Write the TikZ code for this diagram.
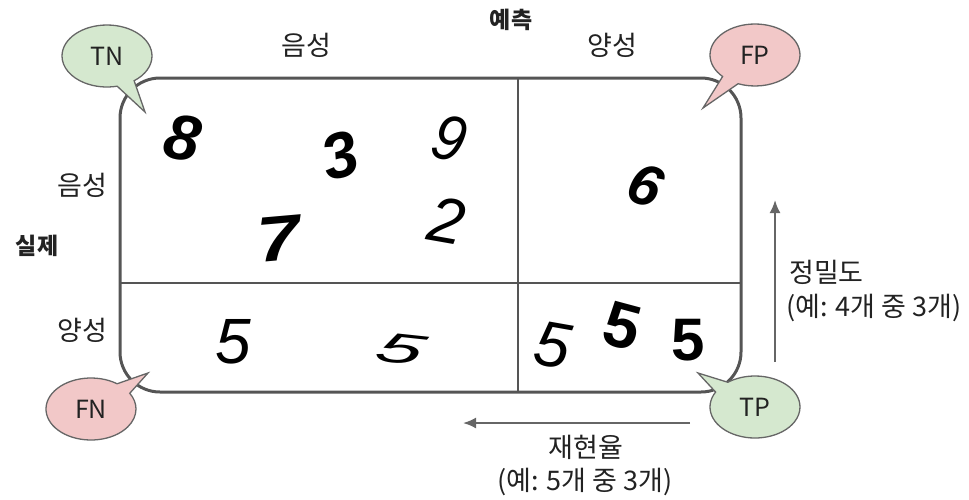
\documentclass[tikz,border=0pt]{standalone}
\usepackage{fontspec}
\setmainfont{Noto Sans CJK KR}
\newfontfamily\digitfont{Liberation Sans}
\usetikzlibrary{shapes.callouts,arrows.meta}
\definecolor{boxgray}{HTML}{555555}
\definecolor{arrowgray}{HTML}{666666}
\definecolor{bubgreen}{HTML}{D5E8CF}
\definecolor{bubred}{HTML}{F2C8C8}
\definecolor{txt}{HTML}{222222}
\tikzset{
  lbl/.style={text=txt, font=\fontsize{27}{30}\selectfont, inner sep=0},
  boldlbl/.style={text=txt, font=\fontsize{23}{26}\selectfont\bfseries, inner sep=0},
  bubble/.style={ellipse callout, draw=arrowgray, line width=1.3, minimum width=90, minimum height=62, inner sep=0, callout pointer arc=24, text=txt, font=\fontsize{25}{28}\selectfont},
  digit/.style={inner sep=0, text=black, font=\digitfont\bfseries\itshape\fontsize{64}{64}\selectfont},
  thindigit/.style={inner sep=0, text=black, font=\digitfont\itshape\fontsize{64}{64}\selectfont},
  metric/.style={draw=arrowgray, line width=2, -{Latex[length=13,width=11]}},
}
\begin{document}
\begin{tikzpicture}[x=1pt,y=-1pt]
\useasboundingbox (0,0) rectangle (969,499);
% matrix box
\draw[boxgray, line width=3, rounded corners=40] (120,78) rectangle (741,392);
\draw[boxgray, line width=2.5] (518,78) -- (518,392);
\draw[boxgray, line width=2.5] (120,283) -- (741,283);
% axis labels
\node[boldlbl] (pred) at (511,20) {예측};
\node[lbl] (predN) at (306,45) {음성};
\node[lbl] (predP) at (612,45) {양성};
\node[boldlbl] (act) at (37,246) {실제};
\node[lbl] (actN) at (82,185) {음성};
\node[lbl] (actP) at (82,330) {양성};
% digits
\node[digit, rotate=-10] (d8) at (183,138) {8};
\node[digit, rotate=15] (d3) at (340,156) {3};
\node[thindigit, rotate=-15, xscale=0.9] (d9) at (450,138) {9};
\node[digit, rotate=5, xscale=1.2] (d7) at (279,239) {7};
\node[thindigit, rotate=-10] (d2) at (447,221) {2};
\node[digit, rotate=-20, font=\digitfont\bfseries\itshape\fontsize{58}{58}\selectfont] (d6) at (645,185) {6};
\node[thindigit] (d5a) at (233,342) {5};
\node[thindigit, xscale=1.3, yscale=0.65, rotate=-12] (d5b) at (401,349) {5};
\node[thindigit, rotate=-10] (d5c) at (553,345) {5};
\node[digit, rotate=-15, font=\digitfont\bfseries\fontsize{64}{64}\selectfont] (d5d) at (622,326) {5};
\node[digit, font=\digitfont\bfseries\fontsize{60}{60}\selectfont] (d5e) at (688,340) {5};
% bubbles
\coordinate (tnTip) at (145,112);
\coordinate (fpTip) at (703,108);
\coordinate (fnTip) at (148,373);
\coordinate (tpTip) at (698,373);
\node[bubble, fill=bubgreen, callout absolute pointer=(tnTip)] (tn) at (107,56) {TN};
\node[bubble, fill=bubred, callout absolute pointer=(fpTip)] (fp) at (755,55) {FP};
\node[bubble, fill=bubred, callout absolute pointer=(fnTip)] (fn) at (91,409) {FN};
\node[bubble, fill=bubgreen, callout absolute pointer=(tpTip)] (tp) at (755,407) {TP};
% metric arrows
\coordinate (precFrom) at (775,362);
\coordinate (precTo) at (775,200);
\coordinate (recFrom) at (690,423);
\coordinate (recTo) at (463,423);
\draw[metric] (precFrom) -- (precTo);
\draw[metric] (recFrom) -- (recTo);
\node[lbl, anchor=west] (prec) at (789,272) {정밀도};
\node[lbl, anchor=west] (precEx) at (786,308) {(예: 4개 중 3개)};
\node[lbl] (rec) at (586,447) {재현율};
\node[lbl] (recEx) at (585,482) {(예: 5개 중 3개)};
\end{tikzpicture}
\end{document}
